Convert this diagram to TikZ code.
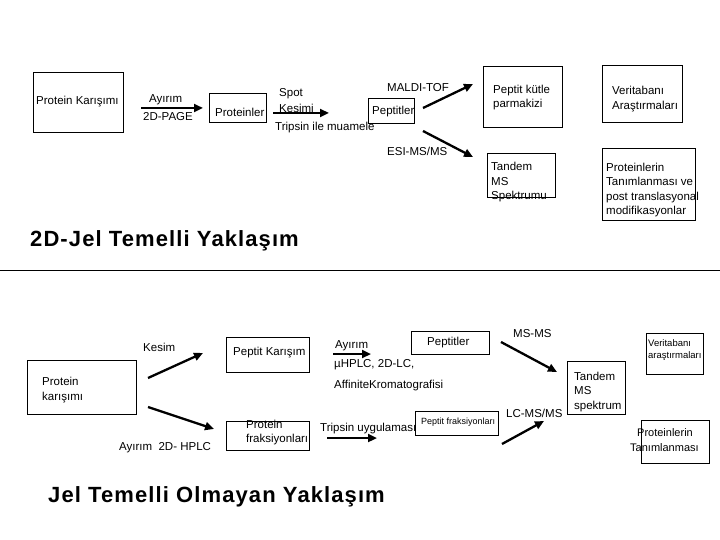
\documentclass[tikz,border=0pt]{standalone}
\usepackage{fontspec}
\setmainfont{Liberation Sans}
\newfontfamily\titlefont[LetterSpace=5]{Liberation Sans}
\usetikzlibrary{arrows.meta}
\begin{document}
\begin{tikzpicture}[x=1pt,y=-1pt,
  box/.style={draw, line width=0.9pt, inner sep=0pt, anchor=north west},
  txt/.style={anchor=west, inner sep=0pt, font=\fontsize{11.5}{14.5}\selectfont, align=left},
  small/.style={anchor=west, inner sep=0pt, font=\fontsize{9.5}{12}\selectfont, align=left},
  mid/.style={anchor=west, inner sep=0pt, font=\fontsize{11}{15}\selectfont, align=left},
  tiny/.style={anchor=west, inner sep=0pt, font=\fontsize{9}{10}\selectfont},
  title/.style={anchor=west, inner sep=0pt, font=\titlefont\bfseries\fontsize{22}{26}\selectfont},
  arr/.style={line width=2.3pt, -{Triangle[length=9pt,width=8pt]}}]
\useasboundingbox (0,0) rectangle (720,540);
\fill[white] (0,0) rectangle (720,540);

% ---------- top part ----------
\node[box, minimum width=90, minimum height=60] (b1) at (33,72) {};
\node[txt] (t1) at (36,102) {Protein Karışımı};
\node[txt] (t2) at (149,100) {Ayırım};
\node[txt] (t3) at (143,117) {2D-PAGE};
\coordinate (a1s) at (141,108); \coordinate (a1e) at (203,108);
\draw[arr] (a1s) -- (a1e);

\node[box, minimum width=57, minimum height=29] (b2) at (209,93) {};
\node[txt] (t4) at (215,112) {Proteinler};
\node[txt] (t5) at (279,94) {Spot};
\node[txt] (t6) at (279,108) {Kesimi};
\coordinate (a2s) at (273,113); \coordinate (a2e) at (329,113);
\draw[arr] (a2s) -- (a2e);
\node[txt] (t7) at (275,128) {Tripsin ile muamele};

\node[box, minimum width=46, minimum height=25] (b3) at (368,98) {};
\node[txt] (t8) at (372,112) {Peptitler};
\node[txt] (t9) at (387,88) {MALDI-TOF};
\coordinate (a3s) at (423,108); \coordinate (a3e) at (473,84);
\draw[arr] (a3s) -- (a3e);
\coordinate (a4s) at (423,131); \coordinate (a4e) at (473,157);
\draw[arr] (a4s) -- (a4e);
\node[txt] (t10) at (387,151) {ESI-MS/MS};

\node[box, minimum width=79, minimum height=61] (b4) at (483,66) {};
\node[txt] (t11) at (493,97.5) {Peptit kütle\\parmakizi};
\node[box, minimum width=80, minimum height=57] (b5) at (602,65) {};
\node[txt] (t12) at (612,99) {Veritabanı\\Araştırmaları};
\node[box, minimum width=68, minimum height=44] (b6) at (487,153) {};
\node[txt] (t13) at (491,182.5) {Tandem\\MS\\Spektrumu};
\node[box, minimum width=93, minimum height=72] (b7) at (602,148) {};
\node[txt] (t14) at (606,190) {Proteinlerin\\Tanımlanması ve\\post translasyonal\\modifikasyonlar};

\node[title] (h1) at (30,241) {2D-Jel Temelli Yaklaşım};
\draw[line width=0.9pt] (0,270) -- (720,270);

% ---------- bottom part ----------
\node[box, minimum width=109, minimum height=54] (c1) at (27,360) {};
\node[txt] (u1) at (42,390) {Protein\\karışımı};
\node[txt] (u2) at (143,347) {Kesim};
\coordinate (d1s) at (148,378); \coordinate (d1e) at (203,353);
\draw[arr] (d1s) -- (d1e);
\coordinate (d2s) at (148,407); \coordinate (d2e) at (214,429);
\draw[arr] (d2s) -- (d2e);
\node[txt] (u3) at (119,448) {Ayırım\ \ 2D- HPLC};

\node[box, minimum width=83, minimum height=35] (c2) at (226,337) {};
\node[txt] (u4) at (233,353) {Peptit Karışım};
\node[box, minimum width=83, minimum height=29] (c3) at (226,421) {};
\node[txt] (u5) at (246,432.5) {Protein\\fraksiyonları};

\node[txt] (u6) at (335,346) {Ayırım};
\coordinate (d3s) at (333,354); \coordinate (d3e) at (371,354);
\draw[arr] (d3s) -- (d3e);
\node[txt] (u7) at (334,365) {µHPLC, 2D-LC,};
\node[txt] (u8) at (334,386) {AffiniteKromatografisi};
\node[txt] (u9) at (320,429) {Tripsin uygulaması};
\coordinate (d4s) at (327,438); \coordinate (d4e) at (377,438);
\draw[arr] (d4s) -- (d4e);

\node[box, minimum width=78, minimum height=23] (c4) at (411,331) {};
\node[txt] (u10) at (427,343) {Peptitler};
\node[box, minimum width=83, minimum height=24] (c5) at (415,411) {};
\node[tiny] (u11) at (421,422) {Peptit fraksiyonları};
\node[txt] (u12) at (513,334) {MS-MS};
\coordinate (d5s) at (501,342); \coordinate (d5e) at (557,372);
\draw[arr] (d5s) -- (d5e);
\node[txt] (u13) at (506,413) {LC-MS/MS};
\coordinate (d6s) at (502,444); \coordinate (d6e) at (544,421);
\draw[arr] (d6s) -- (d6e);

\node[box, minimum width=58, minimum height=53] (c6) at (567,361) {};
\node[txt] (u14) at (574,392) {Tandem\\MS\\spektrum};
\node[box, minimum width=57, minimum height=41] (c7) at (646,333) {};
\node[small] (u15) at (648,350) {Veritabanı\\araştırmaları};
\node[box, minimum width=68, minimum height=43] (c8) at (641,420) {};
\node[mid] (u16) at (630,440.5) {\hspace*{7pt}Proteinlerin\\Tanımlanması};

\node[title] (h2) at (48,497) {Jel Temelli Olmayan Yaklaşım};
\end{tikzpicture}
\end{document}
